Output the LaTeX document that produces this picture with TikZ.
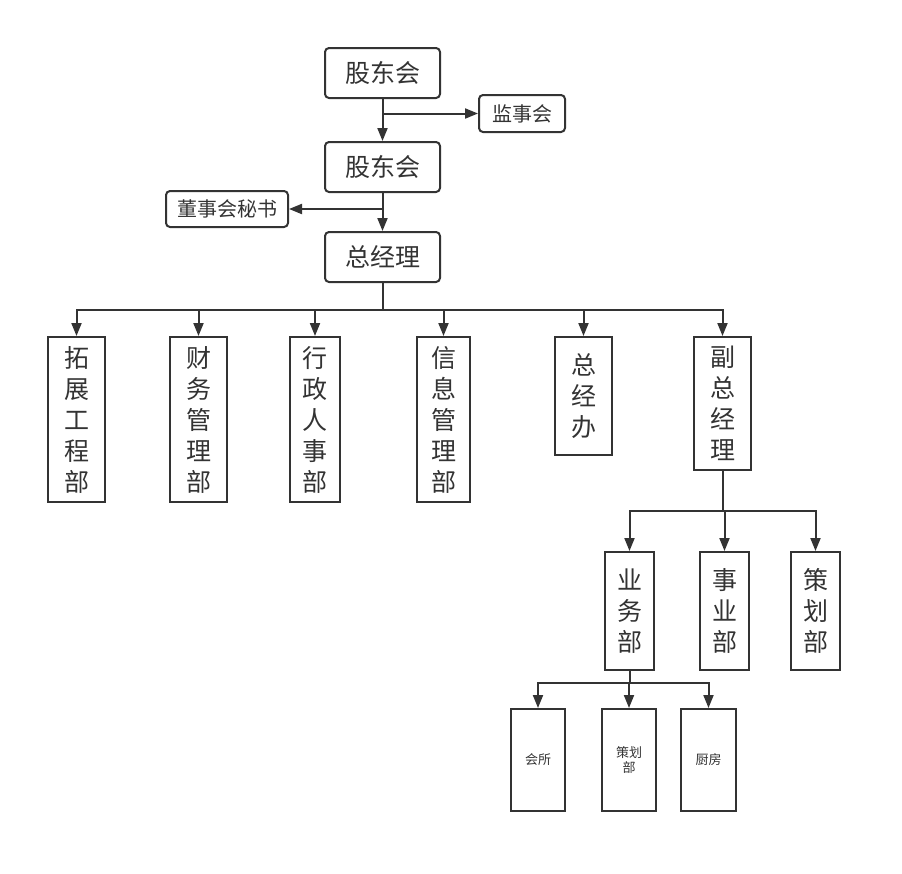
\documentclass[tikz,border=0pt]{standalone}
\usepackage{fontspec}
\setmainfont{Noto Sans CJK SC}
\usetikzlibrary{arrows.meta}
\definecolor{ink}{HTML}{333333}
\begin{document}
\begin{tikzpicture}[x=1pt,y=-1pt,
  base/.style={draw=ink,line width=2pt,text=ink,inner sep=0pt,align=center},
  rbox/.style={base,rounded corners=4pt},
  big/.style={font=\fontsize{25}{31}\selectfont},
  mid/.style={font=\fontsize{20}{24}\selectfont},
  small/.style={font=\fontsize{13}{15}\selectfont},
  arr/.style={draw=ink,line width=2pt,-{Triangle[length=13pt,width=10pt]}},
  ln/.style={draw=ink,line width=2pt}]
\useasboundingbox (0,0) rectangle (902,873);
% top chain
\node[rbox,big,minimum width=115pt,minimum height=50pt] (gd1) at (382.5,73) {股东会};
\node[rbox,mid,minimum width=86pt,minimum height=37pt] (jsh) at (522,113.5) {监事会};
\node[rbox,big,minimum width=115pt,minimum height=50pt] (gd2) at (382.5,167) {股东会};
\node[rbox,mid,minimum width=122pt,minimum height=36pt] (dms) at (227,209) {董事会秘书};
\node[rbox,big,minimum width=115pt,minimum height=50pt] (zjl) at (382.5,257) {总经理};
\draw[arr] (gd1) -- (gd2);
\draw[arr] (gd1.south |- jsh.west) -- (jsh.west);
\draw[arr] (gd2) -- (zjl);
\draw[arr] (gd2.south |- dms.east) -- (dms.east);
% departments
\node[base,big,minimum width=57pt,minimum height=165pt] (d1) at (76.5,419.5) {拓\\展\\工\\程\\部};
\node[base,big,minimum width=57pt,minimum height=165pt] (d2) at (198.5,419.5) {财\\务\\管\\理\\部};
\node[base,big,minimum width=50pt,minimum height=165pt] (d3) at (315,419.5) {行\\政\\人\\事\\部};
\node[base,big,minimum width=53pt,minimum height=165pt] (d4) at (443.5,419.5) {信\\息\\管\\理\\部};
\node[base,big,minimum width=57pt,minimum height=118pt] (d5) at (583.5,396) {总\\经\\办};
\node[base,big,minimum width=57pt,minimum height=133pt] (d6) at (722.5,403.5) {副\\总\\经\\理};
\coordinate (bus) at (382.5,309.5);
\draw[ln] (zjl.south) -- (bus);
\foreach \d in {d1,d2,d3,d4,d5,d6} \draw[arr] (bus) -| (\d.north);
% second level
\node[base,big,minimum width=49pt,minimum height=118pt] (e1) at (629.5,611) {业\\务\\部};
\node[base,big,minimum width=49pt,minimum height=118pt] (e2) at (724.5,611) {事\\业\\部};
\node[base,big,minimum width=49pt,minimum height=118pt] (e3) at (815.5,611) {策\\划\\部};
\coordinate (bus2) at (722.5,510.5);
\draw[ln] (d6.south) -- (bus2);
\foreach \e in {e1,e2,e3} \draw[arr] (bus2) -| (\e.north);
% third level
\node[base,small,minimum width=54pt,minimum height=102pt] (f1) at (538,760) {会所};
\node[base,small,minimum width=54pt,minimum height=102pt] (f2) at (629,760) {策划\\部};
\node[base,small,minimum width=55pt,minimum height=102pt] (f3) at (708.5,760) {厨房};
\coordinate (bus3) at (629.5,682.5);
\draw[ln] (e1.south) -- (bus3);
\foreach \f in {f1,f2,f3} \draw[arr] (bus3) -| (\f.north);
\end{tikzpicture}
\end{document}
